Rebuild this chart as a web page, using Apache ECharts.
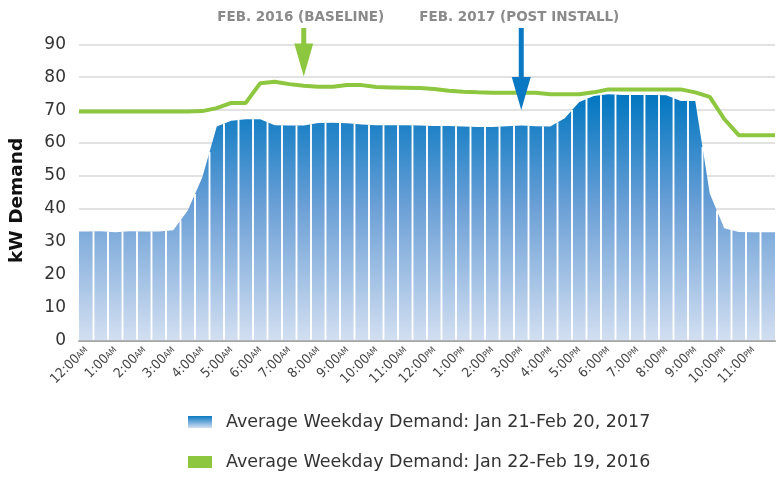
<!DOCTYPE html>
<html><head><meta charset="utf-8">
<script src="https://cdn.jsdelivr.net/npm/echarts@6/dist/echarts.min.js"></script>
<style>html,body{margin:0;padding:0;background:#fff}#c{width:776px;height:480px}</style>
</head><body><div id="c"></div>
<script>
// ---- data ----
const hourLabels = ['12:00AM','1:00AM','2:00AM','3:00AM','4:00AM','5:00AM','6:00AM','7:00AM','8:00AM','9:00AM','10:00AM','11:00AM',
  '12:00PM','1:00PM','2:00PM','3:00PM','4:00PM','5:00PM','6:00PM','7:00PM','8:00PM','9:00PM','10:00PM','11:00PM'];
const categories = [];
hourLabels.forEach(h => { categories.push(h); categories.push(h.replace(':00', ':30')); });

const demand2017 = [33.1,33.2,32.9,33.2,33.1,33.1,33.5,39.5,49.5,65.0,66.8,67.2,
  67.2,65.4,65.3,65.3,66.1,66.2,66.0,65.6,65.4,65.4,65.4,65.3,
  65.2,65.2,65.0,64.9,64.9,65.1,65.3,65.1,65.0,67.5,72.5,74.3,
  74.8,74.6,74.6,74.6,74.5,72.8,72.8,44.7,34.1,33.0,32.9,32.9];
const demand2016 = [69.6,69.6,69.6,69.6,69.6,69.6,69.6,69.6,69.7,70.6,72.2,72.2,
  78.2,78.6,77.9,77.4,77.1,77.1,77.6,77.6,77.0,76.9,76.8,76.7,
  76.4,75.9,75.6,75.4,75.3,75.3,75.3,75.3,74.8,74.8,74.8,75.4,
  76.3,76.3,76.3,76.3,76.3,76.3,75.4,74.0,67.3,62.4,62.4,62.4];
const seriesNames = ['Average Weekday Demand: Jan 21-Feb 20, 2017','Average Weekday Demand: Jan 22-Feb 19, 2016'];
const annotTexts = ['FEB. 2016 (BASELINE)','FEB. 2017 (POST INSTALL)'];
const annotSlot = [15, 30];
const annotTip = [80.2, 70.0];

// ---- helpers ----
function toPairs(arr){
  const out = [[-0.5, arr[0]]];
  arr.forEach((v,i)=>out.push([i, v]));
  out.push([arr.length - 0.5, arr[arr.length-1]]);
  return out;
}
// white slot separators at each boundary between half-hour slots, up to the area's edge there
const separators = demand2017.slice(1).map((v,i)=>[i+0.5, (demand2017[i] + v) / 2]);

const BLUE = '#0a78c2', GREEN = '#8dc63f';
const areaGrad = new echarts.graphic.LinearGradient(0,0,0,1,[
  {offset:0,color:'#0076c0'},{offset:0.45,color:'#6a9fd6'},{offset:1,color:'#d3dff1'}]);
const legendGrad = new echarts.graphic.LinearGradient(0,0,0,1,[
  {offset:0,color:'#0a78c2'},{offset:1,color:'#d3dff1'}]);

const chart = echarts.init(document.getElementById('c'), null, {renderer:'canvas'});
const FONT = '"DejaVu Sans", sans-serif';
const NARROW = '"Liberation Sans Narrow","DejaVu Sans Condensed",sans-serif';
chart.setOption({
  animation:false,
  grid:{left:79, right:1, top:44.3, bottom:139.5, containLabel:false},
  xAxis:[{
    type:'category', data:categories, boundaryGap:true,
    axisLine:{show:true, lineStyle:{color:'#a6a6a6', width:2}},
    axisTick:{show:false},
    splitLine:{show:false},
    axisLabel:{interval:1, rotate:45, margin:8, color:'#444', fontFamily:NARROW,
      formatter:function(v){const m=v.match(/^(.*)(AM|PM)$/);return '{t|'+m[1]+'}{s|'+m[2]+'}';},
      rich:{t:{fontSize:13.5,color:'#444',fontFamily:NARROW},
            s:{fontSize:8.5,color:'#444',fontFamily:NARROW}}}
  },{
    type:'value', min:-0.5, max:categories.length-0.5, show:false
  }],
  yAxis:{type:'value', min:0, max:90, interval:10,
    axisLine:{show:false}, axisTick:{show:false},
    axisLabel:{fontSize:17, color:'#333', margin:13, fontFamily:FONT},
    splitLine:{lineStyle:{color:'#d9d9d9', width:1.5, type:'solid'}},
    name:'kW Demand', nameLocation:'middle', nameGap:52,
    nameTextStyle:{fontSize:18.5, fontWeight:'bold', color:'#111', fontFamily:FONT, padding:[0,16,0,0]}
  },
  legend:{orient:'vertical', left:183, top:408, itemWidth:24, itemHeight:12, itemGap:22,
    icon:'rect', textStyle:{fontSize:17.5, color:'#333', fontFamily:FONT, padding:[0,0,0,9]},
    data:[{name:seriesNames[0], itemStyle:{color:legendGrad}},{name:seriesNames[1], itemStyle:{color:GREEN}}]},
  series:[{
    name:seriesNames[0], type:'line', xAxisIndex:1, yAxisIndex:0, data:toPairs(demand2017), z:2,
    showSymbol:false, symbol:'none', lineStyle:{width:0, color:BLUE}, itemStyle:{color:BLUE},
    areaStyle:{color:areaGrad, opacity:1}
  },{
    name:'separators', type:'custom', xAxisIndex:1, yAxisIndex:0, z:4, data:separators,
    renderItem:function(params, api){
      const p0 = api.coord([api.value(0), 0]);
      const p1 = api.coord([api.value(0), api.value(1)]);
      return {type:'line', shape:{x1:p0[0], y1:p0[1]-1, x2:p1[0], y2:p1[1]},
        style:{stroke:'#ffffff', lineWidth:1.5}};
    }
  },{
    name:seriesNames[1], type:'line', xAxisIndex:1, yAxisIndex:0, data:toPairs(demand2016), z:5,
    showSymbol:false, symbol:'none', lineStyle:{width:4, color:GREEN}, itemStyle:{color:GREEN}
  }]
});

// overlays positioned from the data through the chart's own scales
const g = [];
separators.forEach(s=>{
  const p0 = chart.convertToPixel({xAxisIndex:1, yAxisIndex:0}, [s[0], 0]);
  const p1 = chart.convertToPixel({xAxisIndex:1, yAxisIndex:0}, [s[0], s[1]]);
  g.push({type:'line', shape:{x1:p0[0], y1:p0[1]-1, x2:p1[0], y2:p1[1]}, style:{stroke:'#ffffff', lineWidth:1.5}, z:9});
});
const colors = [GREEN, BLUE];
annotSlot.forEach((s,k)=>{
  const p = chart.convertToPixel({xAxisIndex:1, yAxisIndex:0}, [s, annotTip[k]]);
  const x = p[0], tip = p[1], ht = tip - 33;
  g.push({type:'rect', shape:{x:x-2.5, y:28, width:5, height:ht-28+1}, style:{fill:colors[k]}, z:10});
  g.push({type:'polygon', shape:{points:[[x-9.5,ht],[x+9.5,ht],[x,tip]]}, style:{fill:colors[k]}, z:10});
  g.push({type:'text', x:x - (k===0?3:2), y:17, style:{text:annotTexts[k], fill:'#8a8a8a', font:'bold 13.5px "DejaVu Sans", sans-serif', textAlign:'center', textVerticalAlign:'middle'}, z:10});
});
chart.setOption({graphic:g});
</script></body></html>
